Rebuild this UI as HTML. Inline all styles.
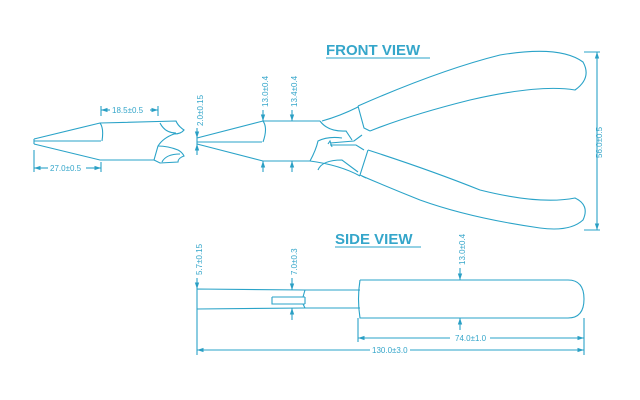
<!DOCTYPE html>
<html><head><style>
html,body{margin:0;padding:0;background:#fff;width:640px;height:400px;overflow:hidden}
svg{display:block}
text{font-family:"Liberation Sans",sans-serif;fill:#35a6ca}
</style></head><body>
<svg width="640" height="400" viewBox="0 0 640 400" xmlns="http://www.w3.org/2000/svg">
<defs>
<marker id="a" markerWidth="6" markerHeight="6" refX="6" refY="3" orient="auto-start-reverse"><path d="M0,1 L6,3 L0,5Z" fill="#2a9fc4"/></marker>
</defs>
<g fill="none" stroke="#2aa3c8" stroke-width="1.1">
<!-- left jaw -->
<path d="M34,139 L34,144 M34,139 L100,123 L176,121 Q178,126 184,130 Q181,134 174,134 Q163,138 158,146 L154,160 M34,144 L100,160 L154,160"/>
<path d="M34,141 L101,141 M100,123 Q104,128 102,141"/>
<path d="M160,123 Q165,133 176,133"/>
<path d="M158,146 Q168,146 178,150 Q182,152 184,156 Q178,158 178,162 L160,163 L154,160 M162,162 Q166,154 180,154"/>
<!-- front jaw -->
<path d="M197,138 L197,144 M197,138 L263,121 L320,121 M197,144 L263,161 L310,161"/>
<path d="M197,142 L262,142 M263,121 Q268,128 263,142"/>
<path d="M320,121 Q328,132 346,131 L352,140 M322,121 Q340,116 358,107"/>
<path d="M310,161 Q316,150 318,141 Q328,136 342,138 M318,170 Q322,160 342,160 L358,172"/>
<path d="M330,143 L354,141 L362,135 M330,145 L356,145 L364,150 M328,144 L330,141 L332,147"/>
<path d="M310,161 Q340,165 360,176"/>
<!-- upper handle -->
<path d="M358,106 L364,128 L370,131"/>
<path d="M358,106 Q440,70 500,55 Q560,45 583,62 Q592,78 575,90 Q540,84 470,100 Q410,115 370,131"/>
<!-- lower handle -->
<path d="M368,150 L360,175 L366,178"/>
<path d="M368,150 Q430,170 480,190 Q540,205 575,198 Q590,205 583,220 Q570,232 540,228 Q470,218 420,200 Q390,188 362,176"/>
<!-- 56 dim -->
<path d="M584,52 L600,52 M584,230 L600,230"/>
<line x1="597" y1="52" x2="597" y2="230" marker-start="url(#a)" marker-end="url(#a)"/>
<!-- front dims -->
<path d="M101,106 L101,116 M158,106 L158,116"/>
<line x1="101" y1="110" x2="110" y2="110" marker-start="url(#a)"/>
<line x1="150" y1="110" x2="158" y2="110" marker-end="url(#a)"/>
<line x1="34" y1="150" x2="34" y2="172"/><line x1="101" y1="162" x2="101" y2="172"/>
<line x1="34" y1="168" x2="48" y2="168" marker-start="url(#a)"/>
<line x1="86" y1="168" x2="101" y2="168" marker-end="url(#a)"/>
<line x1="197" y1="128" x2="197" y2="138" marker-end="url(#a)"/>
<line x1="197" y1="155" x2="197" y2="144" marker-end="url(#a)"/>
<line x1="263" y1="110" x2="263" y2="121" marker-end="url(#a)"/>
<line x1="263" y1="172" x2="263" y2="161" marker-end="url(#a)"/>
<line x1="292" y1="110" x2="292" y2="121" marker-end="url(#a)"/>
<line x1="292" y1="172" x2="292" y2="161" marker-end="url(#a)"/>
<!-- side view -->
<path d="M197,289 L197,309 M197,289 L305,290 L360,290 M197,309 L305,308 L360,308"/>
<path d="M272,297 L272,304 L305,304 M272,297 L305,297 M305,290 L303,297 M305,308 L303,304 M305,297 L305,304"/>
<path d="M360,280 L568,280 Q584,280 584,299 Q584,318 568,318 L360,318 Q357,299 360,280"/>
<line x1="197" y1="278" x2="197" y2="289" marker-end="url(#a)"/>
<line x1="292" y1="278" x2="292" y2="290" marker-end="url(#a)"/>
<line x1="292" y1="320" x2="292" y2="308" marker-end="url(#a)"/>
<line x1="460" y1="268" x2="460" y2="280" marker-end="url(#a)"/>
<line x1="460" y1="330" x2="460" y2="318" marker-end="url(#a)"/>
<path d="M358,318 L358,342 M584,318 L584,355 M197,309 L197,355"/>
<line x1="358" y1="338" x2="450" y2="338" marker-start="url(#a)"/>
<line x1="490" y1="338" x2="584" y2="338" marker-end="url(#a)"/>
<line x1="197" y1="350" x2="370" y2="350" marker-start="url(#a)"/>
<line x1="410" y1="350" x2="584" y2="350" marker-end="url(#a)"/>
</g>
<g font-size="8">
<text x="112" y="113">18.5±0.5</text>
<text x="50" y="171">27.0±0.5</text>
<text x="455" y="341">74.0±1.0</text>
<text x="372" y="353">130.0±3.0</text>
<text transform="translate(203,126) rotate(-90)">2.0±0.15</text>
<text transform="translate(268,107) rotate(-90)">13.0±0.4</text>
<text transform="translate(297,107) rotate(-90)">13.4±0.4</text>
<text transform="translate(602,158) rotate(-90)">56.0±0.5</text>
<text transform="translate(202,275) rotate(-90)">5.7±0.15</text>
<text transform="translate(297,275) rotate(-90)">7.0±0.3</text>
<text transform="translate(465,265) rotate(-90)">13.0±0.4</text>
</g>
<g font-size="15" font-weight="bold">
<text x="326" y="55">FRONT VIEW</text>
<text x="335" y="244">SIDE VIEW</text>
</g>
<path d="M326,58 L430,58 M335,247 L421,247" stroke="#2aa3c8" stroke-width="1"/>
</svg>
</body></html>
